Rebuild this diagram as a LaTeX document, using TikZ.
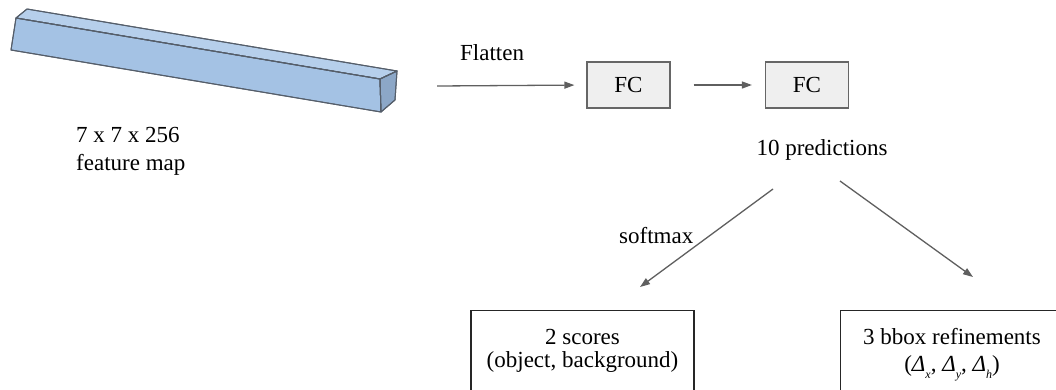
\documentclass[tikz,border=0pt]{standalone}
\usepackage{fontspec}
\setmainfont{Liberation Serif}
\usetikzlibrary{arrows.meta}
\definecolor{barfront}{HTML}{A4C2E4}
\definecolor{bartop}{HTML}{B6CFEB}
\definecolor{barend}{HTML}{8CA7C7}
\definecolor{baredge}{HTML}{555E6A}
\definecolor{arrgray}{HTML}{5F5F5F}
\definecolor{fcfill}{HTML}{EFEFEF}
\definecolor{fcedge}{HTML}{666666}
\tikzset{
  txt/.style={inner sep=0pt, font=\fontsize{23}{23}\selectfont},
  arr/.style={draw=arrgray, line width=1.3pt, -{Triangle[length=10pt,width=7pt]}},
  fcbox/.style={draw=fcedge, fill=fcfill, line width=1.2pt, minimum width=83pt, minimum height=46pt, inner sep=0pt, font=\fontsize{23}{23}\selectfont},
  outbox/.style={draw=black!85, line width=1.2pt, minimum width=223pt, minimum height=120pt, inner sep=0pt},
  face/.style={draw=baredge, line width=1pt, line join=round}
}
\newcommand{\dsub}[1]{\textit{Δ}\raisebox{-7pt}{\fontsize{12}{12}\selectfont\textit{#1}}}
\begin{document}
\begin{tikzpicture}[x=1pt,y=-1pt]
\useasboundingbox (0,0) rectangle (1056,389);
\clip (0,0) rectangle (1056,389);
% feature map bar
\fill[face, fill=bartop] (16,18) -- (27,9) -- (397,71) -- (380,79) -- cycle;
\fill[face, fill=barfront] (16,18) -- (380,79) -- (381,112) -- (11,50) -- cycle;
\fill[face, fill=barend] (380,79) -- (397,71) -- (395,100) -- (381,112) -- cycle;
\draw[face] (16,18) -- (27,9) -- (397,71) -- (380,79) -- cycle;
\draw[face] (16,18) -- (380,79) -- (381,112) -- (11,50) -- cycle;
\draw[face] (380,79) -- (397,71) -- (395,100) -- (381,112) -- cycle;
\node[txt, anchor=base west] (dims) at (76,142) {7 x 7 x 256};
\node[txt, anchor=base west] (fmap) at (76,170) {feature map};
% flatten
\node[txt, anchor=base west] (flat) at (460,60) {Flatten};
\coordinate (flatS) at (437,86);
\node[fcbox] (fc1) at (628.5,85) {FC};
\node[fcbox] (fc2) at (807,85) {FC};
\draw[arr, shorten >=12pt] (flatS) -- (fc1.west);
\draw[arr, shorten <=23pt, shorten >=13pt] (fc1.east) -- (fc2.west);
\node[txt, anchor=base] (pred) at (822,155) {10 predictions};
% branches
\coordinate (lA) at (773,189);
\coordinate (lB) at (640,287);
\coordinate (rA) at (840,181);
\coordinate (rB) at (973,277);
\draw[arr] (lA) -- (lB);
\draw[arr] (rA) -- (rB);
\node[txt, anchor=base west] (soft) at (619,243) {softmax};
% output boxes
\node[outbox, anchor=north] (scores) at (582.5,310) {};
\node[txt, anchor=base] (scoresA) at (582.5,344) {2 scores};
\node[txt, anchor=base] (scoresB) at (582.5,367) {(object, background)};
\node[outbox, anchor=north] (bbox) at (952,310) {};
\node[txt, anchor=base] (bboxA) at (952,344) {3 bbox refinements};
\node[txt, anchor=base] (bboxB) at (952,371) {(\dsub{x}, \dsub{y}, \dsub{h})};
\end{tikzpicture}
\end{document}
